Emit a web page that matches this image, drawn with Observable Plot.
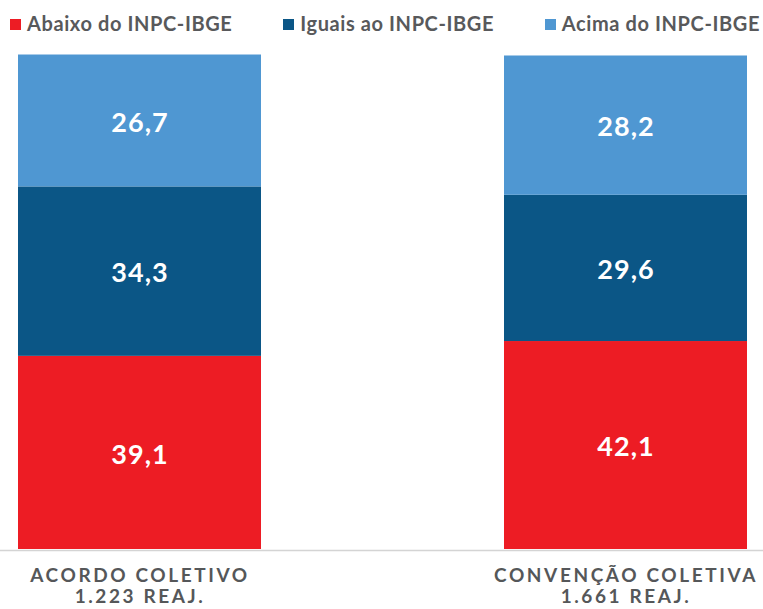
<!DOCTYPE html>
<html>
<head>
<meta charset="utf-8">
<script src="https://cdn.jsdelivr.net/npm/d3@7"></script>
<script src="https://cdn.jsdelivr.net/npm/@observablehq/plot@0.6"></script>
<style>
  html, body { margin: 0; padding: 0; background: #fff; }
  body { width: 763px; height: 609px; overflow: hidden; position: relative; font-family: Lato, "Open Sans", sans-serif; }
  #legend { position: absolute; left: 10px; width: 750px; top: 0; height: 40px; display: flex; justify-content: space-between; align-items: flex-start; }
  .item { display: flex; align-items: center; margin-top: 11px; font-size: 20px; font-weight: 700; color: #58595b; letter-spacing: 0.6px; white-space: nowrap; }
  .sw { width: 11px; height: 11px; margin-right: 6px; margin-top: 2px; }
  #chart { position: absolute; left: 0; top: 40px; }
  #chart svg [aria-label="x-axis tick label"] text { letter-spacing: 2.6px; }
  #chart svg [aria-label="text"] text { letter-spacing: 1px; }
</style>
</head>
<body>
<div id="legend"></div>
<div id="chart"></div>
<script>
const groups = ["ACORDO COLETIVO\n1.223 REAJ.", "CONVENÇÃO COLETIVA\n1.661 REAJ."];
const categories = ["Abaixo do INPC-IBGE", "Iguais ao INPC-IBGE", "Acima do INPC-IBGE"];
const colors = ["#ed1c24", "#0b5686", "#4f97d2"];
const abaixo = [39.1, 42.1];
const iguais = [34.3, 29.6];
const acima = [26.7, 28.2];

const series = [abaixo, iguais, acima];
const data = [];
categories.forEach((c, i) => groups.forEach((g, j) => data.push({group: g, cat: c, value: series[i][j]})));

const legend = document.getElementById("legend");
categories.forEach((c, i) => {
  const d = document.createElement("div");
  d.className = "item";
  d.innerHTML = `<span class="sw" style="background:${colors[i]}"></span><span>${c}</span>`;
  legend.appendChild(d);
});

const plot = Plot.plot({
  width: 763,
  height: 569,
  marginLeft: 18,
  marginRight: 16,
  marginTop: 15,
  marginBottom: 60,
  style: {fontFamily: "Lato, 'Open Sans', sans-serif", background: "#fff"},
  x: {domain: groups, paddingInner: 0.5, paddingOuter: 0, label: null},
  y: {domain: [0, 100], axis: null},
  color: {domain: categories, range: colors},
  marks: [
    Plot.barY(data, {x: "group", y: "value", fill: "cat", z: "cat"}),
    Plot.ruleY([0], {stroke: "#d4d4d4", strokeWidth: 1.5, insetLeft: -18, insetRight: -16, dy: 1}),
    Plot.text(data, Plot.stackY({x: "group", y: "value", z: "cat",
      text: d => d.value.toFixed(1).replace(".", ","),
      fill: "white", fontSize: 27, fontWeight: 700, dy: 2})),
    Plot.axisX({tickSize: 0, tickPadding: 17, fontSize: 19, fontWeight: 700, fill: "#555759", lineHeight: 1.12, label: null})
  ]
});
document.getElementById("chart").appendChild(plot);
</script>
</body>
</html>
